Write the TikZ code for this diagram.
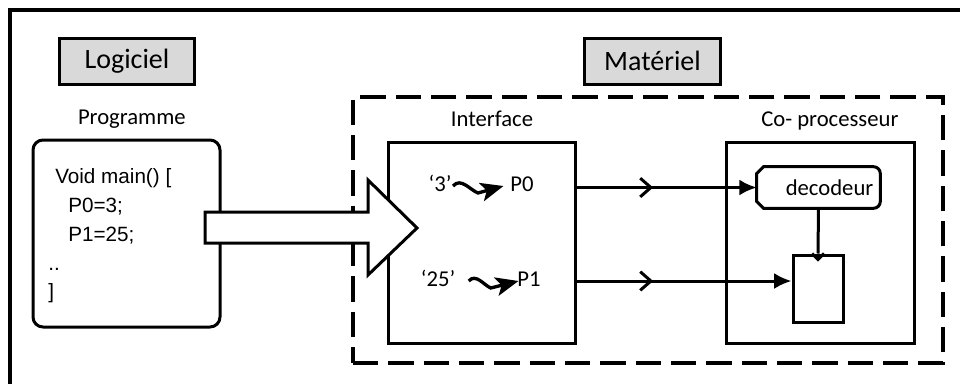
\documentclass[tikz,border=0pt]{standalone}
\usepackage{fontspec}
\setmainfont{Carlito}
\newfontfamily\codefont{Liberation Sans}
\usetikzlibrary{positioning,arrows.meta,decorations.markings}
\definecolor{titlegray}{RGB}{217,217,217}
\tikzset{
  titlebox/.style={draw, line width=2.25pt, fill=titlegray, minimum width=101.5pt, minimum height=34.5pt, font=\fontsize{21}{25}\selectfont},
  block/.style={draw, line width=2.25pt, minimum width=140.5pt, minimum height=150.75pt},
  lbl/.style={inner sep=0pt, text height=12pt, text depth=4pt, font=\fontsize{17}{20}\selectfont},
  wire/.style={line width=2.25pt, -{Latex[length=13pt,width=12pt]}, postaction={decorate},
    decoration={markings, mark=at position 57pt with {\arrow{Straight Barb[length=8pt,width=14pt]}}}},
  wavy/.style={line width=2.5pt, -{Stealth[length=17pt,width=14pt,inset=4pt]}}
}
\begin{document}
\begin{tikzpicture}[x=0.75pt, y=-0.75pt]
\useasboundingbox (0,0) rectangle (960,383);
\clip (0,0) rectangle (960,383);
\draw[line width=2.5pt] (10,10) rectangle (990,420);
\node[titlebox] (sw) at (127,61) {Logiciel};
\node[titlebox] (hwt) at (652.5,61) {Matériel};
\node[draw, line width=2.25pt, rounded corners=7.5pt, minimum width=140.25pt, minimum height=140.25pt] (prog) at (126.5,233.5) {};
\node[lbl, above=6pt of prog, xshift=4pt] (progl) {Programme};
\node[anchor=west, inner sep=0pt, align=left, font=\codefont\fontsize{15.5}{21.6}\selectfont] (code) at (48,236) {\hspace*{5.25pt}Void main() [\\\hspace*{15pt}P0=3;\\\hspace*{15pt}P1=25;\\..\\]};
\node[draw, line width=3pt, dash pattern=on 19pt off 7.5pt, minimum width=442.5pt, minimum height=199.5pt] (hw) at (648,230) {};
\node[block] (iface) at (482,242.5) {};
\node[block] (copro) at (820.5,242.5) {};
\node[lbl, above=6pt of iface, xshift=7.5pt] (ifacel) {Interface};
\node[lbl, above=6pt of copro, xshift=7pt] (coprol) {Co- processeur};
\node[minimum width=92.25pt, minimum height=30.75pt, inner xsep=5pt, text width=82.25pt, align=right, font=\fontsize{17}{20}\selectfont] (dec) at (818.5,187.5) {decodeur};
\node[draw, line width=2.25pt, minimum width=37.5pt, minimum height=50.25pt] (reg) at (818,288.5) {};
\node[lbl] (q3) at (440,186) {‘3’};
\node[lbl] (p0) at (522,186) {P0};
\node[lbl] (q25) at (438,281) {‘25’};
\node[lbl] (p1) at (529,281) {P1};
\draw[line width=2.25pt] ([yshift=-5pt]dec.north west) -- ([xshift=5pt]dec.north west) -- ([xshift=-5pt]dec.north east) arc[start angle=90, end angle=0, radius=5pt] -- ([yshift=5pt]dec.south east) arc[start angle=0, end angle=-90, radius=5pt] -- ([xshift=5pt]dec.south west) -- ([yshift=5pt]dec.south west) -- cycle;
\draw[line width=2.25pt] ([xshift=-4.5pt]reg.north) -- ([yshift=-4.5pt]reg.north) -- ([xshift=4.5pt]reg.north);
\draw[line width=2.25pt] (dec.south) -- (reg.north);
\draw[line width=2.25pt, fill=white] (205,212) -- (368,212) -- (368,180) -- (417,228) -- (368,275) -- (368,243) -- (205,243) -- cycle;
\draw[wavy] ([xshift=1pt]q3.east) .. controls +(8,-9) and +(-8,-3) .. ++(25,7) -- ([xshift=-5pt]p0.west);
\draw[wavy] ([xshift=10pt]q25.east) .. controls +(7,-8) and +(-7,-3) .. ++(22,7) -- ([xshift=1pt]p1.west);
\draw[wire] (iface.east |- dec.west) -- (dec.west);
\draw[wire] (iface.east |- p1) -- (reg.west |- p1);
\end{tikzpicture}
\end{document}
